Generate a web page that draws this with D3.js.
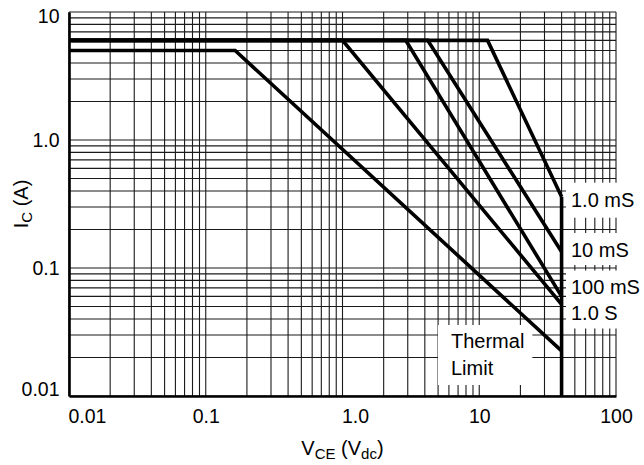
<!DOCTYPE html>
<html>
<head>
<meta charset="utf-8">
<script src="https://cdn.jsdelivr.net/npm/d3@7"></script>
<style>
  body { margin: 0; background: #fff; }
  svg { display: block; font-family: "Liberation Sans", Arial, Helvetica, sans-serif; }
</style>
</head>
<body>
<svg id="chart" width="644" height="465"></svg>
<script>
// axis ticks
const xTicks = [0.01, 0.1, 1, 10, 100]
const xTickLabels = ["0.01", "0.1", "1.0", "10", "100"]
const yTicks = [0.01, 0.1, 1, 10]
const yTickLabels = ["0.01", "0.1", "1.0", "10"]

// safe operating area curves: flat at kneeI up to kneeV, then down to endI at limitV
const curveNames = ["1.0 mS", "10 mS", "100 mS", "1.0 S", "Thermal Limit"]
const startV = 0.01
const limitV = 40
const kneeV = [11.5, 4.2, 2.9, 1.0, 0.164]
const kneeI = [6, 6, 6, 6, 5]
const endI = [0.36, 0.134, 0.06, 0.052, 0.0225]
const floorI = 0.01

const width = 644
const height = 465
const margin = { top: 12, right: 28, bottom: 69, left: 69 }

const svg = d3.select("#chart")

const x = d3
  .scaleLog()
  .domain([0.01, 100])
  .range([margin.left, width - margin.right])
const y = d3
  .scaleLog()
  .domain([0.01, 10])
  .range([height - margin.bottom, margin.top])

// grid
const grid = svg.append("g").attr("stroke", "#1a1a1a").attr("stroke-width", 1.1)
grid
  .selectAll("line.v")
  .data(x.ticks())
  .enter()
  .append("line")
  .attr("x1", d => x(d))
  .attr("x2", d => x(d))
  .attr("y1", y(10))
  .attr("y2", y(0.01))
grid
  .selectAll("line.h")
  .data(y.ticks())
  .enter()
  .append("line")
  .attr("x1", x(0.01))
  .attr("x2", x(100))
  .attr("y1", d => y(d))
  .attr("y2", d => y(d))

// label boxes (white, hide the grid behind the text)
const labelLayer = svg.append("g").attr("font-size", 20).attr("fill", "#000")
const labelSpecs = [
  { lines: [curveNames[0]], x: 571, y: 206.7, pad: [5, 30, 6, 7] },
  { lines: [curveNames[1]], x: 571, y: 257, pad: [5, 30, 6, 4] },
  { lines: [curveNames[2]], x: 571, y: 293.5, pad: [5, 30, 5, 5] },
  { lines: [curveNames[3]], x: 571, y: 319.5, pad: [5, 30, 5, 5] },
  { lines: ["Thermal", "Limit"], x: 451, y: 348, pad: [13, 8, 5, 6] }
]
const boxLayer = svg.append("g")
labelSpecs.forEach(s => {
  const t = labelLayer.append("text").attr("x", s.x).attr("y", s.y)
  s.lines.forEach((l, i) => {
    t.append("tspan")
      .attr("x", s.x)
      .attr("dy", i === 0 ? 0 : 27)
      .text(l)
  })
  const b = t.node().getBBox()
  boxLayer
    .append("rect")
    .attr("x", b.x - s.pad[0])
    .attr("y", b.y - s.pad[2])
    .attr("width", b.width + s.pad[0] + s.pad[1])
    .attr("height", b.height + s.pad[2] + s.pad[3])
    .attr("fill", "#fff")
})
labelLayer.raise()

// curves
const line = d3
  .line()
  .x(d => x(d[0]))
  .y(d => y(d[1]))
const curves = curveNames.map((n, i) => [
  [startV, kneeI[i]],
  [kneeV[i], kneeI[i]],
  [limitV, endI[i]]
])
svg
  .append("g")
  .selectAll("path")
  .data(curves)
  .enter()
  .append("path")
  .attr("d", d => line(d))
  .attr("fill", "none")
  .attr("stroke", "#000")
  .attr("stroke-width", 3.6)
  .attr("stroke-linejoin", "miter")

// voltage limit
svg
  .append("path")
  .attr("d", line([[limitV, d3.max(endI)], [limitV, floorI]]))
  .attr("fill", "none")
  .attr("stroke", "#000")
  .attr("stroke-width", 3.6)

// axes
const xAxis = svg
  .append("g")
  .attr("transform", `translate(0, ${y(0.01)})`)
  .call(
    d3
      .axisBottom(x)
      .tickValues(xTicks)
      .tickFormat((d, i) => xTickLabels[i])
      .tickSize(0)
      .tickPadding(13.5)
  )
const yAxis = svg
  .append("g")
  .attr("transform", `translate(${x(0.01)}, 0)`)
  .call(
    d3
      .axisLeft(y)
      .tickValues(yTicks)
      .tickFormat((d, i) => yTickLabels[i])
      .tickSize(0)
      .tickPadding(9.5)
  )
;[xAxis, yAxis].forEach(g => {
  g.attr("font-family", null).attr("font-size", 19.5)
  g.select(".domain").attr("stroke", "#000").attr("stroke-width", 2.6)
  g.selectAll("text").attr("fill", "#000")
})
xAxis
  .selectAll("text")
  .filter((d, i) => i === 0 || i === 2)
  .attr("text-anchor", "start")
  .attr("dx", -1)
yAxis
  .selectAll("text")
  .filter((d, i) => i === yTicks.length - 1)
  .attr("dy", "0.55em")
yAxis
  .selectAll("text")
  .filter((d, i) => i === 0)
  .attr("dy", "-0.04em")

// axis titles
const xTitle = svg
  .append("text")
  .attr("x", x(1))
  .attr("y", 455)
  .attr("text-anchor", "middle")
  .attr("font-size", 20)
xTitle.append("tspan").text("V")
xTitle.append("tspan").attr("font-size", 15).attr("dy", 4).text("CE")
xTitle.append("tspan").attr("dy", -4).text(" (V")
xTitle.append("tspan").attr("font-size", 15).attr("dy", 4).text("dc")
xTitle.append("tspan").attr("dy", -4).text(")")

const yTitle = svg
  .append("text")
  .attr("transform", `translate(28, ${(y(10) + y(0.01)) / 2}) rotate(-90)`)
  .attr("text-anchor", "middle")
  .attr("font-size", 20)
yTitle.append("tspan").text("I")
yTitle.append("tspan").attr("font-size", 15).attr("dy", 4).text("C")
yTitle.append("tspan").attr("dy", -4).text(" (A)")
</script>
</body>
</html>
